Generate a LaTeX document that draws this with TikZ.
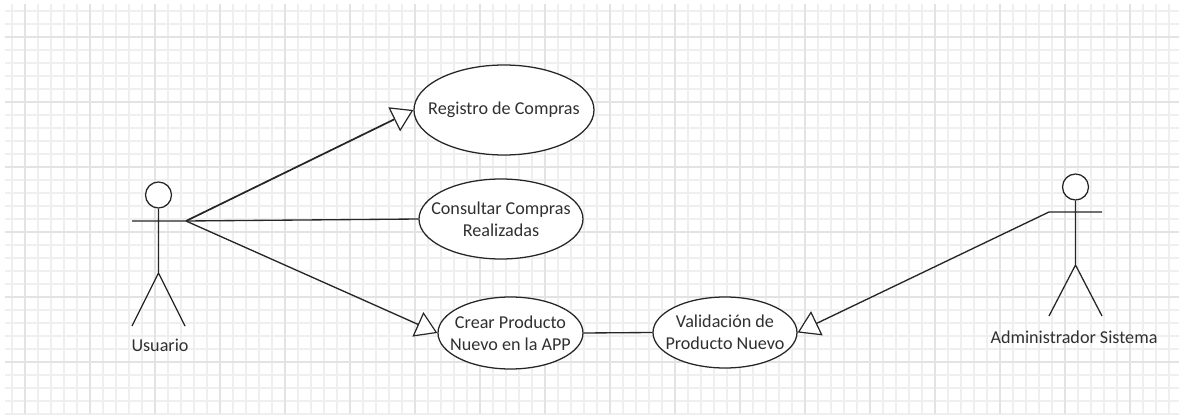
\documentclass[tikz,border=0pt]{standalone}
\usepackage{fontspec}
\setmainfont{Carlito}
\usetikzlibrary{shapes.geometric,arrows.meta}
\definecolor{gridlight}{HTML}{EFEFEF}
\definecolor{griddark}{HTML}{E3E3E3}
\definecolor{txt}{HTML}{303030}
\tikzset{
  x=0.75pt,y=-0.75pt,
  usecase/.style={draw=black!85,line width=0.95pt,fill=white,ellipse,inner sep=-25pt,align=center,text=txt,font=\fontsize{13.6}{16.5}\selectfont},
  head/.style={draw=black!85,line width=0.95pt,fill=white,circle,inner sep=0pt,minimum size=19.5pt},
  limb/.style={draw=black!85,line width=0.95pt},
  link/.style={draw=black!85,line width=1pt},
  gen/.style={draw=black!85,line width=1pt,-{Triangle[open,fill=white,length=16pt,width=20pt,line width=0.9pt]}},
  label/.style={text=txt,font=\fontsize{13.6}{16}\selectfont,inner sep=0pt},
}
\begin{document}
\begin{tikzpicture}
\useasboundingbox (0,0) rectangle (1179,417);
\fill[white] (0,0) rectangle (1179,417);
% grid
\foreach \i in {0,...,90}{
  \pgfmathsetmacro{\gx}{12+13*\i}
  \draw[gridlight,line width=1.1pt] (\gx,4) -- (\gx,414);
}
\foreach \i in {0,...,31}{
  \pgfmathsetmacro{\gy}{11+13*\i}
  \draw[gridlight,line width=1.1pt] (5,\gy) -- (1179,\gy);
}
\foreach \i in {0,...,17}{
  \pgfmathsetmacro{\gx}{25+65*\i}
  \draw[griddark,line width=1.1pt] (\gx,4) -- (\gx,414);
}
\foreach \i in {0,...,5}{
  \pgfmathsetmacro{\gy}{37+65*\i}
  \draw[griddark,line width=1.1pt] (5,\gy) -- (1179,\gy);
}
% use cases
\node[usecase,minimum width=135pt,minimum height=67.5pt] (reg) at (504,110) {Registro de Compras};
\node[usecase,minimum width=123pt,minimum height=60pt] (con) at (501,219) {Consultar Compras\\Realizadas};
\node[usecase,minimum width=108.75pt,minimum height=54pt] (cre) at (510.5,333) {Crear Producto\\Nuevo en la APP};
\node[usecase,minimum width=108pt,minimum height=53.25pt] (val) at (725,332.5) {Validación de\\Producto Nuevo};
% actor 1
\node[head] (h1) at (158.5,195) {};
\coordinate (a1l) at (132,221);
\coordinate (a1r) at (186,221);
\coordinate (b1) at (158.5,273);
\coordinate (l1l) at (132,326);
\coordinate (l1r) at (185,326);
\draw[limb] (h1.south) -- (b1) (a1l) -- (a1r) (l1l) -- (b1) -- (l1r);
\node[label] (t1) at (160,345) {Usuario};
% actor 2
\node[head] (h2) at (1075.5,187) {};
\coordinate (a2l) at (1049,212);
\coordinate (a2r) at (1102,212);
\coordinate (b2) at (1075.5,265);
\coordinate (l2l) at (1049,316);
\coordinate (l2r) at (1102,316);
\draw[limb] (h2.south) -- (b2) (a2l) -- (a2r) (l2l) -- (b2) -- (l2r);
\node[label] (t2) at (1074,337) {Administrador Sistema};
% connectors
\draw[gen,line width=1.3pt] (a1r) -- (reg.west);
\draw[link] (a1r) -- (con.west);
\draw[gen] (a1r) -- (cre.west);
\draw[link] (cre.east) -- (val.west);
\draw[gen] (a2l) -- (val.east);
\end{tikzpicture}
\end{document}
